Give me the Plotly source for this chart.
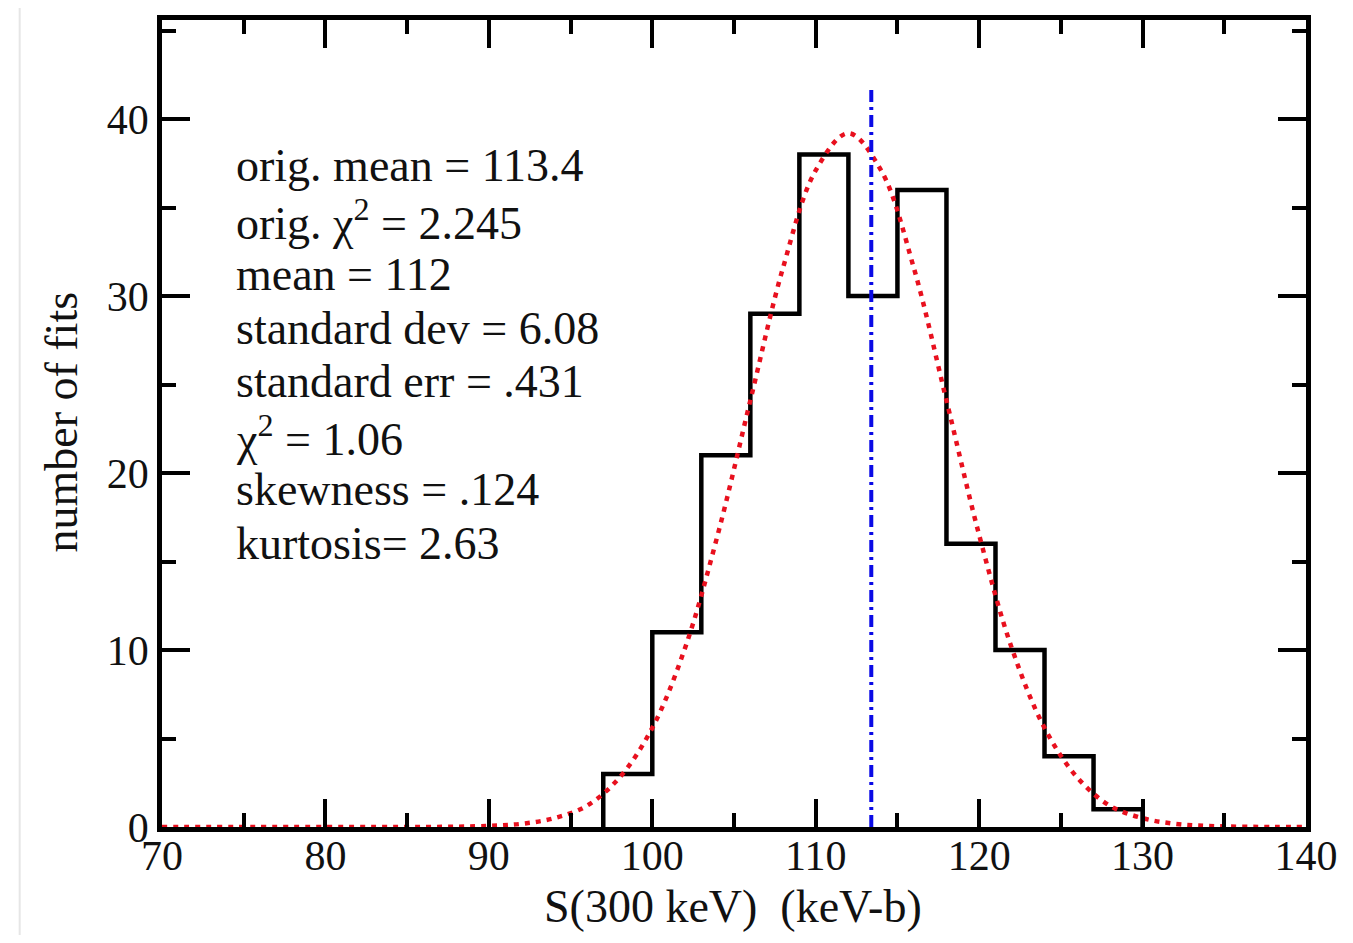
import plotly.graph_objects as go

# Histogram data (bin edges, counts)
bin_edges = [97, 100, 103, 106, 109, 112, 115, 118, 121, 124, 127, 130]
counts = [3, 11, 21, 29, 38, 30, 36, 16, 10, 4, 1]

# Fitted gaussian curve
fit_x = [70, 80, 86, 90, 92, 94, 96, 98, 100, 102, 104, 106, 108, 110, 112,
         114, 116, 118, 120, 122, 124, 126, 128, 130, 132, 134, 138, 140]
fit_y = [0, 0, 0, 0.06, 0.18, 0.5, 1.2, 2.8, 5.6, 10.1, 16.5, 24.1, 31.6, 37.1, 39.2,
         37.1, 31.6, 24.1, 16.5, 10.1, 5.6, 2.8, 1.2, 0.5, 0.18, 0.06, 0, 0]

# Original mean marker
orig_mean = 113.4
orig_line_top = 41.7

x_ticks = [70, 80, 90, 100, 110, 120, 130, 140]
y_ticks = [0, 10, 20, 30, 40]

stats_lines = [
    "orig. mean = 113.4",
    "orig. χ<sup>2</sup> = 2.245",
    "mean = 112",
    "standard dev = 6.08",
    "standard err = .431",
    "χ<sup>2</sup> = 1.06",
    "skewness = .124",
    "kurtosis= 2.63",
]
stats_y = [37.4, 34.3, 31.2, 28.15, 25.15, 22.1, 19.05, 16.0]

x_title = "S(300 keV)  (keV-b)"
y_title = "number of fits"

FONT = "Liberation Serif, Times New Roman, serif"
TXT = "#111"

fig = go.Figure()

# histogram as step line
hx = [bin_edges[0]] + bin_edges
hy = [0] + counts + [0]
fig.add_trace(go.Scatter(x=hx, y=hy, mode="lines", line_shape="hv",
                         line=dict(color="black", width=4.5), hoverinfo="skip"))

# gaussian fit
fig.add_trace(go.Scatter(x=fit_x, y=fit_y, mode="lines", line_shape="spline",
                         line=dict(color="#e8101e", width=4.5, dash="5px,6px"),
                         hoverinfo="skip"))

# original mean line
fig.add_trace(go.Scatter(x=[orig_mean, orig_mean], y=[0, orig_line_top], mode="lines",
                         line=dict(color="#0a0ae6", width=4, dash="12px,5px,3px,5px"),
                         hoverinfo="skip"))

for txt, yy in zip(stats_lines, stats_y):
    fig.add_annotation(x=74.4, y=yy, xref="x", yref="y", text=txt, showarrow=False,
                       xanchor="left", yanchor="middle",
                       font=dict(family=FONT, size=46, color=TXT))

# axis titles
fig.add_annotation(x=0.499, y=-0.0985, xref="paper", yref="paper", text=x_title, showarrow=False,
                   xanchor="center", yanchor="middle",
                   font=dict(family=FONT, size=46, color=TXT))
fig.add_annotation(x=-0.0877, y=0.502, xref="paper", yref="paper", text=y_title, showarrow=False,
                   xanchor="center", yanchor="middle", textangle=-90,
                   font=dict(family=FONT, size=46, color=TXT))

fig.update_layout(
    width=1337, height=927,
    margin=dict(l=154, r=39, t=12, b=108),
    paper_bgcolor="white", plot_bgcolor="white",
    showlegend=False,
    font=dict(family=FONT, color=TXT),
)

fig.update_xaxes(
    range=[70, 140], tickvals=x_ticks, ticktext=[str(v) for v in x_ticks],
    automargin=False,
    showgrid=False, zeroline=False,
    showline=True, linecolor="black", linewidth=4.5, mirror="ticks",
    ticks="inside", ticklen=28, tickwidth=4, tickcolor="black",
    minor=dict(dtick=5, tick0=70, ticks="inside", ticklen=14, tickwidth=4, tickcolor="black"),
    tickfont=dict(family=FONT, size=42, color=TXT),
    ticklabelstandoff=-12,
)
fig.update_yaxes(
    range=[0, 45.6], tickvals=y_ticks, ticktext=[str(v) for v in y_ticks],
    automargin=False,
    showgrid=False, zeroline=False,
    showline=True, linecolor="black", linewidth=4.5, mirror="ticks",
    ticks="inside", ticklen=28, tickwidth=4, tickcolor="black",
    minor=dict(dtick=5, tick0=0, ticks="inside", ticklen=14, tickwidth=4, tickcolor="black"),
    tickfont=dict(family=FONT, size=42, color=TXT),
)

# faint page edge visible in the reference
fig.add_shape(type="line", xref="paper", yref="paper", x0=-0.1244, x1=-0.1244, y0=-0.2, y1=1.03,
              line=dict(color="#e6e6e6", width=2))

fig.write_html("out.html")
